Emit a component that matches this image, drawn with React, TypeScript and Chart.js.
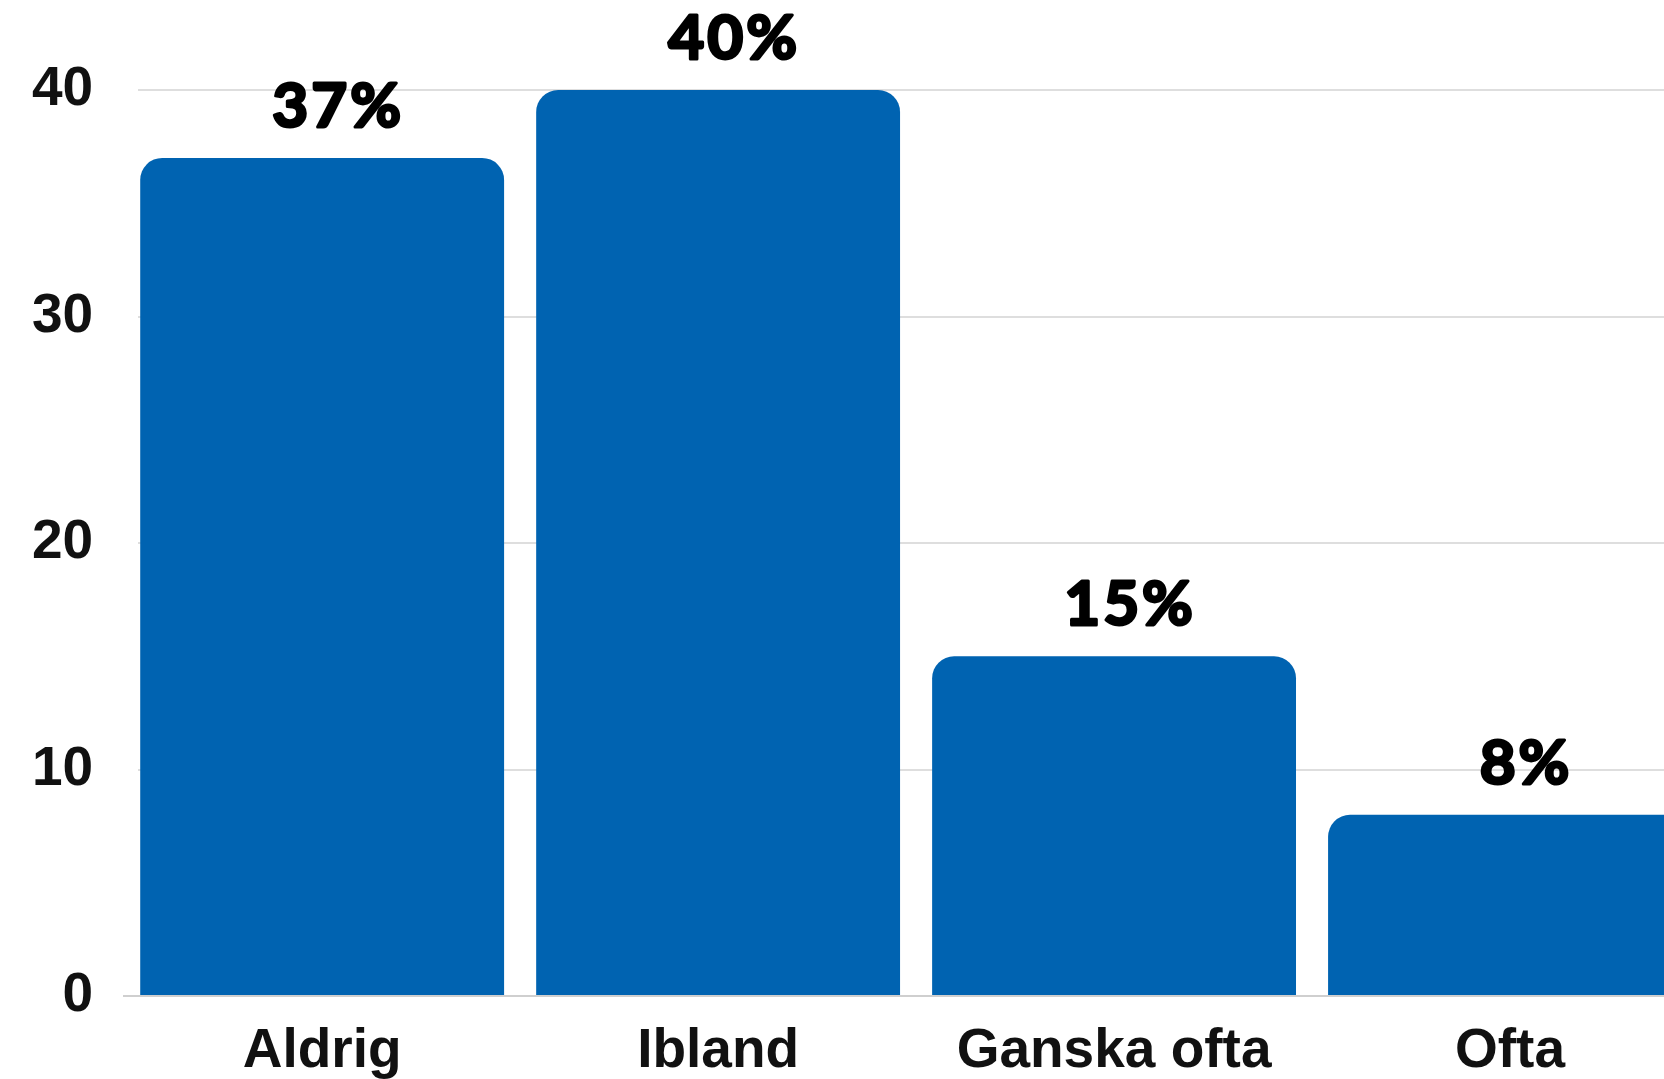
import React, { useEffect, useRef } from "react";
import { Chart, registerables } from "chart.js";

Chart.register(...registerables);

const categories = ["Aldrig", "Ibland", "Ganska ofta", "Ofta"];
const shares = [37, 40, 15, 8];
const yTicks = [0, 10, 20, 30, 40];

const BAR_COLOR = "#0063B1";

const valueLabelPlugin = {
  id: "valueLabels",
  afterDatasetsDraw(chart: any) {
    const ctx = chart.ctx;
    const meta = chart.getDatasetMeta(0);
    ctx.save();
    ctx.font = "bold 62px Lato";
    (ctx as any).letterSpacing = "3px";
    ctx.fillStyle = "#000";
    ctx.strokeStyle = "#000";
    ctx.lineWidth = 3;
    ctx.lineJoin = "round";
    ctx.textAlign = "center";
    ctx.textBaseline = "middle";
    meta.data.forEach((bar: any, i: number) => {
      const v = chart.data.datasets[0].data[i];
      const t = v + "%";
      ctx.strokeText(t, bar.x + 16, bar.y - 51);
      ctx.fillText(t, bar.x + 16, bar.y - 51);
    });
    ctx.restore();
  },
};

// grid lines in the reference begin a little to the right of the first category edge
const gridInsetPlugin = {
  id: "gridInset",
  afterLayout(chart: any) {
    chart.chartArea.left = chart.scales.x.left + 14;
  },
};

export default function App() {
  const ref = useRef<HTMLCanvasElement | null>(null);

  useEffect(() => {
    document.body.style.margin = "0";
    const canvas = ref.current;
    if (!canvas) return;
    const chart = new Chart(canvas, {
      type: "bar",
      data: {
        labels: categories,
        datasets: [
          {
            data: shares,
            backgroundColor: BAR_COLOR,
            borderRadius: 22,
            borderSkipped: "bottom",
            barPercentage: 0.919,
            categoryPercentage: 1,
          },
        ],
      },
      options: {
        responsive: false,
        animation: false,
        devicePixelRatio: 1,
        layout: { padding: { top: 90, left: 1, right: 12, bottom: 0 } },
        plugins: {
          legend: { display: false },
          tooltip: { enabled: false },
          title: { display: false },
        },
        scales: {
          x: {
            grid: { display: false, drawTicks: false },
            border: { display: true, color: "#cfcfcf", width: 2 },
            ticks: {
              color: "#111",
              padding: 23,
              font: { family: "'Liberation Sans', Arial, sans-serif", size: 55, weight: "bold", lineHeight: 1.2 },
            },
          },
          y: {
            min: 0,
            max: 40,
            afterBuildTicks: (scale: any) => {
              scale.ticks = yTicks.map((v) => ({ value: v }));
            },
            grid: { color: "#dedede", lineWidth: 2, drawTicks: false },
            border: { display: false },
            ticks: {
              color: "#111",
              padding: 31,
              font: { family: "'Liberation Sans', Arial, sans-serif", size: 55, weight: "bold" },
            },
          },
        },
      },
      plugins: [gridInsetPlugin, valueLabelPlugin],
    });
    return () => chart.destroy();
  }, []);

  return (
    <div
      style={{
        position: "fixed",
        left: 0,
        top: 0,
        width: 1664,
        height: 1079,
        overflow: "hidden",
        background: "#fff",
      }}
    >
      <canvas ref={ref} width={1720} height={1108} style={{ width: 1720, height: 1108, display: "block" }} />
    </div>
  );
}
